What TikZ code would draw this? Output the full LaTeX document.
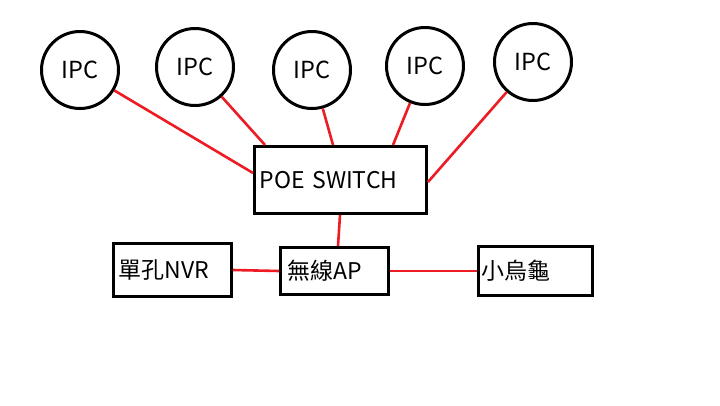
\documentclass[tikz,border=0pt]{standalone}
\usepackage{fontspec}
\setmainfont{Noto Sans CJK TC}
\usetikzlibrary{calc}
\begin{document}
\begin{tikzpicture}[x=1pt,y=-1pt,
  ipc/.style={draw=black,line width=3pt,circle,minimum size=77pt,inner sep=0pt,font=\fontsize{23.5}{26}\selectfont},
  box/.style={draw=black,line width=3pt,rectangle,anchor=north west,align=left,inner ysep=0pt,font=\fontsize{23}{26}\selectfont},
  link/.style={draw={rgb,255:red,237;green,28;blue,36},line width=2.6pt}]
\fill[white] (0,0) rectangle (720,405);
\useasboundingbox (0,0) rectangle (720,405);
\node[ipc] (ipc1) at (80,70) {IPC};
\node[ipc] (ipc2) at (195,67) {IPC};
\node[ipc] (ipc3) at (312,70) {IPC};
\node[ipc] (ipc4) at (425,66) {IPC};
\node[ipc] (ipc5) at (533,62) {IPC};
\node[box,inner xsep=5pt,text width=162pt,minimum height=67pt] (poe) at (253,145) {POE SWITCH};
\node[box,inner xsep=5pt,text width=108pt,minimum height=53pt] (nvr) at (112,242) {單孔NVR};
\node[box,inner xsep=7pt,text width=94pt,minimum height=47pt] (ap) at (279,246) {無線AP};
\node[box,inner xsep=3pt,text width=108pt,minimum height=49pt] (tur) at (477,245) {小烏龜};
\coordinate (c1) at ($(poe.north west)+(0,28)$);
\coordinate (c2) at ($(poe.north west)+(12,0)$);
\coordinate (c3) at ($(poe.north west)+(80,0)$);
\coordinate (c4) at ($(poe.north west)+(140,0)$);
\coordinate (c5) at ($(poe.north east)+(0,37)$);
\coordinate (pa) at ($(poe.south west)+(87,0)$);
\coordinate (pb) at ($(ap.north west)+(59,0)$);
\draw[link] (ipc1) -- (c1);
\draw[link] (ipc2) -- (c2);
\draw[link] (ipc3) -- (c3);
\draw[link] (ipc4) -- (c4);
\draw[link] (ipc5) -- (c5);
\draw[link] (pa) -- (pb);
\draw[link] (nvr.east) -- (ap.west);
\draw[link] (ap.east) -- (tur.west);
\end{tikzpicture}
\end{document}
